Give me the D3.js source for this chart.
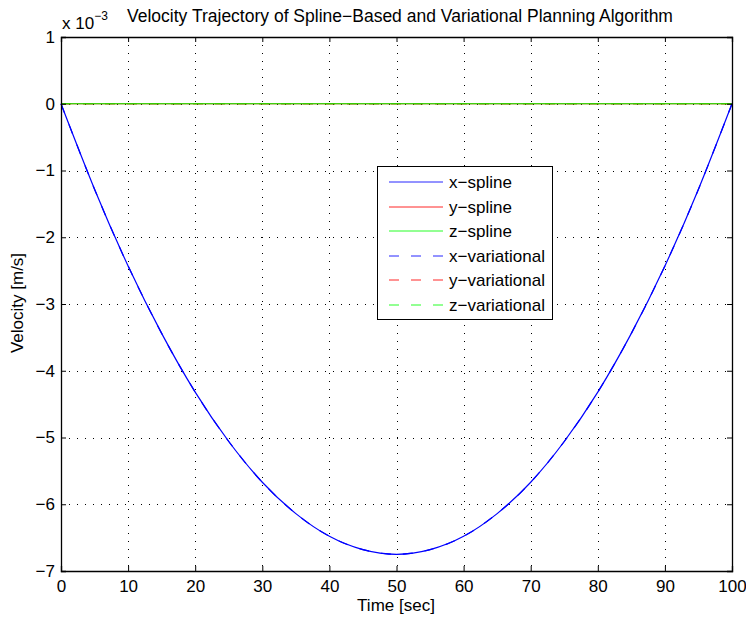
<!DOCTYPE html>
<html><head><meta charset="utf-8">
<script src="https://cdn.jsdelivr.net/npm/d3@7"></script>
<style>body{margin:0;background:#fff}svg{display:block}text{font-family:"Liberation Sans",Arial,Helvetica,sans-serif}</style>
</head><body><svg id="c" width="746" height="621"></svg>
<script>
// Data (velocity in units of 1e-3 m/s)
const timeSec = [0,5,10,15,20,25,30,35,40,45,50,55,60,65,70,75,80,85,90,95,100];
const xSpline = [0,-1.28,-2.43,-3.44,-4.32,-5.06,-5.67,-6.14,-6.48,-6.68,-6.75,-6.68,-6.48,-6.14,-5.67,-5.06,-4.32,-3.44,-2.43,-1.28,0];
const ySpline = [0,0,0,0,0,0,0,0,0,0,0,0,0,0,0,0,0,0,0,0,0];
const zSpline = [0,0,0,0,0,0,0,0,0,0,0,0,0,0,0,0,0,0,0,0,0];
const xVariational = [0,-1.28,-2.43,-3.44,-4.32,-5.06,-5.67,-6.14,-6.48,-6.68,-6.75,-6.68,-6.48,-6.14,-5.67,-5.06,-4.32,-3.44,-2.43,-1.28,0];
const yVariational = [0,0,0,0,0,0,0,0,0,0,0,0,0,0,0,0,0,0,0,0,0];
const zVariational = [0,0,0,0,0,0,0,0,0,0,0,0,0,0,0,0,0,0,0,0,0];
const xTicks = [0,10,20,30,40,50,60,70,80,90,100];
const yTicks = [1,0,-1,-2,-3,-4,-5,-6,-7];
const seriesNames = ["x\u2212spline","y\u2212spline","z\u2212spline","x\u2212variational","y\u2212variational","z\u2212variational"];
const seriesColors = ["#0000ff","#ff0000","#00ff00","#0000ff","#ff0000","#00ff00"];
const seriesDashed = [false,false,false,true,true,true];
const seriesValues = [xSpline,ySpline,zSpline,xVariational,yVariational,zVariational];

const svg = d3.select("#c");
const L=61, R=732, T=37, B=571;
const FS = 17;
const x = d3.scaleLinear().domain([0,100]).range([L,R]);
const y = d3.scaleLinear().domain([-7,1]).range([B,T]);
const fmt = d => d<0 ? "\u2212"+Math.abs(d) : String(d);

// grid
const g = svg.append("g");
g.selectAll(".gx").data(xTicks.filter(d=>d>0&&d<100)).enter().append("line")
 .attr("x1",d=>Math.round(x(d))+0.5).attr("x2",d=>Math.round(x(d))+0.5).attr("y1",T).attr("y2",B)
 .attr("stroke","#000").attr("stroke-width",1).attr("stroke-dasharray","1,7");
g.selectAll(".gy").data(yTicks.filter(d=>d<1&&d>-7)).enter().append("line")
 .attr("y1",d=>Math.round(y(d))+0.5).attr("y2",d=>Math.round(y(d))+0.5).attr("x1",L).attr("x2",R)
 .attr("stroke","#000").attr("stroke-width",1).attr("stroke-dasharray","1,7");

// lines
const line = d3.line().x((d,i)=>x(timeSec[i])).y(d=>y(d)).curve(d3.curveNatural);
seriesValues.forEach((vals,k)=>{
  svg.append("path").datum(vals).attr("d",line).attr("fill","none")
   .attr("stroke",seriesColors[k]).attr("stroke-width",1.2)
   .attr("stroke-dasharray",seriesDashed[k]?"10,12":null);
});

// axes
const ax = svg.append("g");
const xb = d3.axisBottom(x).tickValues(xTicks).tickSize(-5).tickPadding(9).tickFormat(fmt);
const xt = d3.axisTop(x).tickValues(xTicks).tickSize(-5).tickFormat("");
const yl = d3.axisLeft(y).tickValues(yTicks).tickSize(-5).tickPadding(6).tickFormat(fmt);
const yr = d3.axisRight(y).tickValues(yTicks).tickSize(-5).tickFormat("");
[[xb,`translate(0,${B})`],[xt,`translate(0,${T})`],[yl,`translate(${L},0)`],[yr,`translate(${R},0)`]].forEach(([a,t])=>{
  const gg = ax.append("g").attr("transform",t).call(a);
  gg.select(".domain").attr("stroke","#000").attr("stroke-width",1.3);
  gg.selectAll(".tick line").attr("stroke","#000");
  gg.selectAll("text").attr("font-size",FS).attr("fill","#000").style("font-family","'Liberation Sans',Arial,sans-serif");
});

// labels
svg.append("text").attr("x",396).attr("y",611).attr("text-anchor","middle").attr("font-size",FS).text("Time [sec]");
svg.append("text").attr("transform",`translate(23,303) rotate(-90)`).attr("text-anchor","middle").attr("font-size",FS).text("Velocity [m/s]");
svg.append("text").attr("x",400).attr("y",22).attr("text-anchor","middle").attr("font-size",17.5).text("Velocity Trajectory of Spline\u2212Based and Variational Planning Algorithm");
const ex = svg.append("text").attr("x",62).attr("y",29).attr("font-size",FS);
ex.append("tspan").text("x 10");
ex.append("tspan").attr("dy",-9).attr("font-size",12).text("\u22123");

// legend
const lg = svg.append("g");
lg.append("rect").attr("x",377.5).attr("y",166.5).attr("width",175).attr("height",153).attr("fill","#fff").attr("stroke","#000").attr("stroke-width",1);
seriesNames.forEach((n,k)=>{
  const yy = Math.round(182 + k*24.5);
  lg.append("line").attr("x1",389).attr("x2",443).attr("y1",yy).attr("y2",yy)
    .attr("stroke",seriesColors[k]).attr("stroke-width",1).attr("stroke-opacity",0.85).attr("stroke-dasharray",seriesDashed[k]?"10,12":null);
  lg.append("text").attr("x",449).attr("y",yy+6).attr("font-size",FS).text(n);
});
</script></body></html>
